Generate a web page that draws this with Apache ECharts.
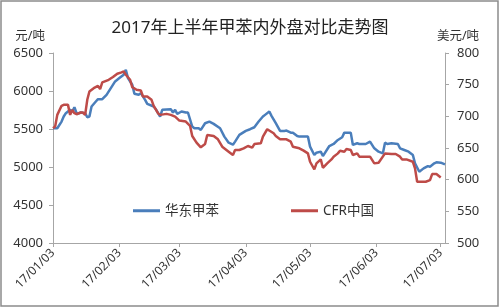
<!DOCTYPE html>
<html>
<head>
<meta charset="utf-8">
<script src="https://cdn.jsdelivr.net/npm/echarts@6/dist/echarts.min.js"></script>
<style>html,body{margin:0;padding:0;background:#fff;}#c{width:500px;height:308px;}</style>
</head>
<body>
<div id="c"></div>
<script>
// ---- data ----
const startDate = '2017-01-03';
const endDate = '2017-07-05';
const tickDates = ['2017-01-03','2017-02-03','2017-03-03','2017-04-03','2017-05-03','2017-06-03','2017-07-03'];
const tickLabels = ['17/01/03','17/02/03','17/03/03','17/04/03','17/05/03','17/06/03','17/07/03'];

const huadongDates = ['01-03','01-05','01-07','01-08','01-09','01-11','01-12','01-13','01-14','01-15','01-16','01-18','01-19','01-20','01-21','01-23','01-24','01-26','01-28','01-30','02-01','02-03','02-05','02-06','02-07','02-09','02-10','02-12','02-13','02-15','02-16','02-19','02-20','02-22','02-23','02-27','02-28','03-01','03-02','03-04','03-06','03-07','03-09','03-10','03-12','03-13','03-15','03-17','03-19','03-22','03-24','03-26','03-28','03-29','03-31','04-03','04-05','04-07','04-09','04-11','04-12','04-14','04-15','04-17','04-19','04-21','04-22','04-24','04-25','04-27','04-28','05-02','05-03','05-05','05-06','05-08','05-09','05-12','05-14','05-16','05-18','05-19','05-22','05-23','05-25','05-26','05-29','05-31','06-02','06-04','06-06','06-07','06-08','06-10','06-13','06-14','06-16','06-18','06-20','06-21','06-23','06-25','06-27','06-28','06-30','07-01','07-03','07-05'];
const huadongValues = [5510,5510,5598,5664,5708,5752,5730,5787,5708,5708,5717,5708,5655,5664,5796,5862,5893,5893,5950,6038,6126,6170,6214,6280,6170,6082,5963,5950,5972,5884,5831,5796,5761,5664,5752,5761,5717,5752,5699,5730,5717,5717,5532,5510,5510,5488,5576,5598,5567,5510,5400,5320,5294,5334,5422,5475,5497,5523,5598,5664,5686,5730,5673,5576,5475,5475,5479,5452,5452,5408,5400,5400,5268,5158,5188,5202,5144,5276,5303,5356,5391,5452,5452,5290,5312,5303,5303,5334,5246,5202,5180,5320,5303,5312,5303,5246,5224,5202,5158,5048,4938,4982,5012,5004,5048,5061,5057,5034];

const cfrDates = ['01-03','01-04','01-05','01-07','01-08','01-10','01-11','01-12','01-13','01-14','01-16','01-17','01-18','01-19','01-20','01-22','01-24','01-25','01-26','01-29','01-31','02-02','02-04','02-05','02-06','02-08','02-09','02-11','02-13','02-14','02-16','02-18','02-19','02-21','02-22','02-25','02-27','03-01','03-03','03-06','03-08','03-09','03-11','03-13','03-15','03-16','03-19','03-21','03-23','03-26','03-28','03-29','03-31','04-02','04-04','04-06','04-07','04-10','04-11','04-13','04-16','04-17','04-19','04-22','04-24','04-25','04-28','04-30','05-02','05-03','05-05','05-06','05-08','05-09','05-11','05-13','05-14','05-16','05-17','05-19','05-20','05-22','05-23','05-25','05-26','05-31','06-02','06-04','06-07','06-10','06-12','06-14','06-15','06-17','06-20','06-21','06-22','06-24','06-26','06-28','06-29','07-01','07-03'];
const cfrValues = [681.2,683.8,702.3,716.6,718.1,718.1,702.3,710.2,704.9,703.3,706,706,702.3,726.1,739.3,744.5,748.2,743,753.5,757.7,762,767.3,769.4,770.9,765.7,757.7,746.1,741.9,740.8,731.3,731.3,726.1,716.6,704.9,702.3,703.9,702.3,699.6,693.3,691.7,684.9,669,658.5,651.1,656.3,670.6,669,663.7,652.1,644.2,638.9,646.8,646.8,649.5,653.2,650.5,656.3,657.4,668,679.6,673.2,669,663.7,663.7,660,652.1,649.5,645.8,641.5,628.3,616.2,625.7,632,618.8,625.7,632,636.3,641.5,645.8,644.2,648.4,646.8,638.9,641.5,636.3,636.3,625.7,626.8,641.5,640.5,640.5,636.3,632,632,628.3,617.8,596.7,596.7,596.7,599.3,608.8,608.8,603.5];

// ---- helpers ----
const DAY = 86400000;
const t0 = Date.UTC(2017, 0, 3);
function dayOf(s) {
  const p = s.split('-').map(Number);
  const [y, m, d] = p.length === 3 ? p : [2017, p[0], p[1]];
  return (Date.UTC(y, m - 1, d) - t0) / DAY;
}
const tickDays = tickDates.map(dayOf);
const labelMap = {};
tickDays.forEach((d, i) => labelMap[d] = tickLabels[i]);

const font = "'Noto Sans','Noto Sans CJK SC',sans-serif";
const axisColor = '#a6a6a6';
const textColor = '#333';

const chart = echarts.init(document.getElementById('c'), null, {renderer: 'canvas'});
chart.setOption({
  animation: false,
  backgroundColor: '#fff',
  textStyle: {fontFamily: font},
  title: {
    text: '2017年上半年甲苯内外盘对比走势图',
    left: 'center', top: 15,
    textStyle: {fontSize: 17, fontWeight: 'normal', color: '#222', fontFamily: font}
  },
  graphic: [{
    type: 'rect', shape: {x: 1, y: 1, width: 497, height: 305},
    style: {fill: 'none', stroke: '#8c8c8c', lineWidth: 1.5}, silent: true
  }],
  legend: {
    left: 128, top: 199,
    itemWidth: 27, itemHeight: 3, itemGap: 72,
    icon: 'rect',
    textStyle: {fontSize: 13.5, color: textColor, fontFamily: font},
    data: ['华东甲苯', 'CFR中国']
  },
  grid: {left: 53, right: 55, top: 53, bottom: 65, containLabel: false},
  xAxis: {
    type: 'value',
    min: dayOf(startDate), max: dayOf(endDate),
    splitLine: {show: false},
    axisLine: {lineStyle: {color: axisColor, width: 1}},
    axisTick: {show: true, customValues: tickDays, length: 4, lineStyle: {color: axisColor}},
    axisLabel: {
      customValues: tickDays, rotate: 45, margin: 8,
      fontSize: 12, color: textColor, fontFamily: font,
      formatter: v => labelMap[v] || ''
    }
  },
  yAxis: [{
    type: 'value', min: 4000, max: 6500, interval: 500,
    name: '元/吨', nameLocation: 'end', nameGap: 10,
    nameTextStyle: {fontSize: 12.5, color: textColor, align: 'right', padding: [0, 8, 0, 0], fontFamily: font},
    splitLine: {show: false},
    axisLine: {show: true, lineStyle: {color: axisColor}},
    axisTick: {show: true, length: 4, lineStyle: {color: axisColor}},
    axisLabel: {fontSize: 13, color: textColor, margin: 10, fontFamily: font, formatter: v => String(v)}
  }, {
    type: 'value', min: 500, max: 800, interval: 50,
    name: '美元/吨', nameLocation: 'end', nameGap: 10,
    nameTextStyle: {fontSize: 12.5, color: textColor, align: 'center', padding: [0, 0, 0, 26], fontFamily: font},
    splitLine: {show: false},
    axisLine: {show: true, lineStyle: {color: axisColor}},
    axisTick: {show: true, length: 4, lineStyle: {color: axisColor}},
    axisLabel: {fontSize: 13, color: textColor, margin: 12, fontFamily: font, formatter: v => String(v)}
  }],
  series: [{
    name: '华东甲苯', type: 'line', yAxisIndex: 0,
    symbol: 'none', smooth: false,
    lineStyle: {width: 2.5, color: '#4a7ebb'}, itemStyle: {color: '#4a7ebb'},
    data: huadongDates.map((d, i) => [dayOf(d), huadongValues[i]])
  }, {
    name: 'CFR中国', type: 'line', yAxisIndex: 1,
    symbol: 'none', smooth: false,
    lineStyle: {width: 2.5, color: '#be4b48'}, itemStyle: {color: '#be4b48'},
    data: cfrDates.map((d, i) => [dayOf(d), cfrValues[i]])
  }]
});
</script>
</body>
</html>
